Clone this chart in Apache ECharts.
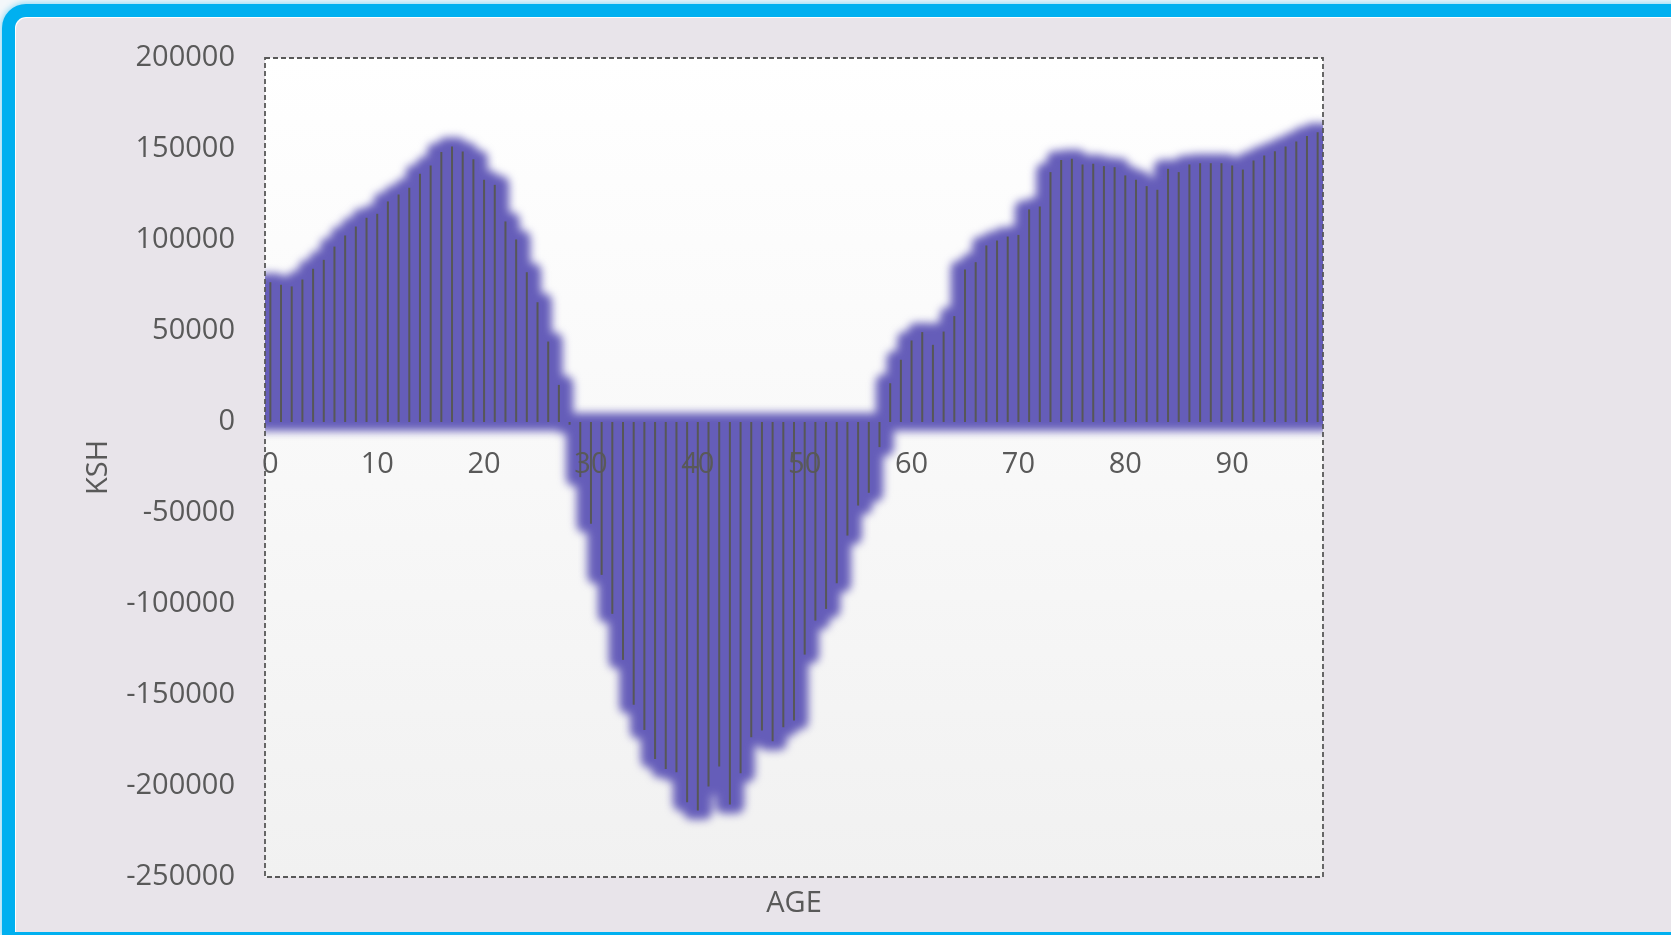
<!DOCTYPE html>
<html>
<head>
<meta charset="utf-8">
<title>KSH by AGE</title>
<script src="https://cdn.jsdelivr.net/npm/echarts@6/dist/echarts.min.js"></script>
<style>
  html, body { margin: 0; padding: 0; width: 1671px; height: 935px; overflow: hidden; background: #f3f7fa; }
  #frame {
    position: absolute; left: 2px; top: 4px; width: 1720px; height: 931px;
    box-sizing: border-box;
    border-left: 13px solid #00b0f0; border-top: 13px solid #00b0f0;
    border-bottom: 3px solid #00b0f0; border-right: none;
    border-top-left-radius: 24px;
    background: #e8e4ea;
    box-shadow: 0 0 6px 1px rgba(0, 176, 240, 0.45), inset 1px 1px 0 #ffffff;
  }
  .layer { position: absolute; left: 0; top: 0; width: 1671px; height: 935px; }
  /* soft purple glow, cut back to the plot rectangle after blurring */
  #glow { filter: blur(4px); clip-path: inset(58px 348px 58px 265px); }
</style>
</head>
<body>
<div id="frame"></div>
<div id="bg" class="layer"></div>
<div id="glow" class="layer"></div>
<div id="fg" class="layer"></div>
<script>
// Ages on the horizontal axis
const ages = [
  0, 1, 2, 3, 4, 5, 6, 7, 8, 9,
  10, 11, 12, 13, 14, 15, 16, 17, 18, 19,
  20, 21, 22, 23, 24, 25, 26, 27, 28, 29,
  30, 31, 32, 33, 34, 35, 36, 37, 38, 39,
  40, 41, 42, 43, 44, 45, 46, 47, 48, 49,
  50, 51, 52, 53, 54, 55, 56, 57, 58, 59,
  60, 61, 62, 63, 64, 65, 66, 67, 68, 69,
  70, 71, 72, 73, 74, 75, 76, 77, 78, 79,
  80, 81, 82, 83, 84, 85, 86, 87, 88, 89,
  90, 91, 92, 93, 94, 95, 96, 97, 98
];

// KSH balance for each age
const ksh = [
  76800, 75400, 74500, 78300, 84200, 89100, 96400, 102500, 107400, 112200,
  114400, 121200, 125000, 128700, 136400, 141000, 148300, 151400, 148600, 144400,
  133100, 130300, 110200, 100300, 82300, 65800, 44200, 20400, -1500, -30300,
  -55900, -84000, -105400, -130700, -155400, -169200, -185100, -190600, -192400, -208900,
  -213500, -200300, -189300, -210200, -193000, -173200, -169500, -175400, -167700, -164000,
  -127800, -109100, -102700, -88600, -62400, -45900, -38900, -13800, 21300, 34200,
  44800, 49400, 42400, 49700, 58200, 83800, 87800, 97000, 99700, 101900,
  102800, 116800, 118400, 137300, 144000, 144600, 141500, 141900, 140600, 140000,
  135500, 133100, 129600, 127600, 139100, 137300, 141500, 142200, 142200, 142200,
  140900, 138700, 143700, 146400, 148800, 151400, 154100, 157100, 159200
];

// Value axis ticks
const yMin = -250000;
const yMax = 200000;
const yStep = 50000;
const xLabelEvery = 10;

const W = 1671, H = 935;
const GRID = { left: 265, right: 348, top: 58, bottom: 58 };
const TEXT = '#595959';
const FONT = 'Open Sans';
const FS = 29;
const PURPLE = '#655db9';
const GLOW_PAD = 9;

// the category axis sits on the zero line: lift it from the bottom edge by zero's share of the plot height
const plotH = H - GRID.top - GRID.bottom;
const zeroLift = plotH * (0 - yMin) / (yMax - yMin);

// Shared coordinate system; each layer switches on only what it draws
function axes(visible) {
  return {
    xAxis: {
      type: 'category', data: ages, boundaryGap: true, show: visible,
      position: 'bottom', offset: -zeroLift,
      axisLine: { show: false, onZero: false },
      axisTick: { show: false },
      axisLabel: {
        interval: (i) => i % xLabelEvery === 0,
        margin: 28, fontSize: FS, color: TEXT, fontFamily: FONT
      },
      splitLine: { show: false }
    },
    yAxis: {
      type: 'value', min: yMin, max: yMax, interval: yStep, show: visible,
      axisLine: { show: false }, axisTick: { show: false },
      axisLabel: { margin: 30, fontSize: FS, color: TEXT, fontFamily: FONT, formatter: (v) => String(v) },
      splitLine: { show: false },
      name: 'KSH', nameLocation: 'middle', nameGap: 152, nameRotate: 90,
      nameTextStyle: { fontSize: FS, color: TEXT, fontFamily: FONT }
    }
  };
}

const opts = { renderer: 'canvas', width: W, height: H };

// Layer 1: plot area fill
const bg = echarts.init(document.getElementById('bg'), null, opts);
bg.setOption(Object.assign({
  animation: false,
  backgroundColor: 'transparent',
  grid: Object.assign({
    show: true, borderWidth: 0,
    backgroundColor: {
      type: 'linear', x: 0, y: 0, x2: 0, y2: 1,
      colorStops: [{ offset: 0, color: '#ffffff' }, { offset: 0.45, color: '#f9f9f9' }, { offset: 1, color: '#f1f1f1' }]
    }
  }, GRID),
  series: []
}, axes(false)));

// Layer 2: purple glow around every bar
const glow = echarts.init(document.getElementById('glow'), null, opts);
glow.setOption(Object.assign({
  animation: false,
  backgroundColor: 'transparent',
  grid: Object.assign({ show: false }, GRID),
  series: [{
    type: 'custom',
    data: ksh.map((v, i) => [i, v]),
    encode: { x: 0, y: 1 },
    renderItem: function (params, api) {
      const idx = api.value(0);
      const tip = api.coord([idx, api.value(1)]);
      const base = api.coord([idx, 0]);
      const w = api.size([1, 0])[0];
      const y1 = Math.min(tip[1], base[1]) - GLOW_PAD;
      const y2 = Math.max(tip[1], base[1]) + GLOW_PAD;
      return {
        type: 'rect',
        shape: { x: tip[0] - w / 2 - GLOW_PAD, y: y1, width: w + 2 * GLOW_PAD, height: y2 - y1, r: 8 },
        style: { fill: PURPLE }
      };
    }
  }]
}, axes(false)));

// Layer 3: the bars themselves, axes, labels and the dashed plot frame
const plotCenterX = GRID.left + (W - GRID.left - GRID.right) / 2;
const fg = echarts.init(document.getElementById('fg'), null, opts);
fg.setOption(Object.assign({
  animation: false,
  backgroundColor: 'transparent',
  grid: Object.assign({
    show: true, backgroundColor: 'transparent',
    borderColor: '#585858', borderWidth: 1.8, borderType: [5, 3]
  }, GRID),
  title: {
    text: 'AGE', left: plotCenterX, top: H - GRID.bottom + 12, textAlign: 'center', padding: 0,
    textStyle: { fontSize: FS, fontWeight: 'normal', color: TEXT, fontFamily: FONT }
  },
  series: [{
    type: 'bar',
    data: ksh,
    barWidth: 2,
    itemStyle: { color: '#575757' }
  }]
}, axes(true)));
</script>
</body>
</html>
